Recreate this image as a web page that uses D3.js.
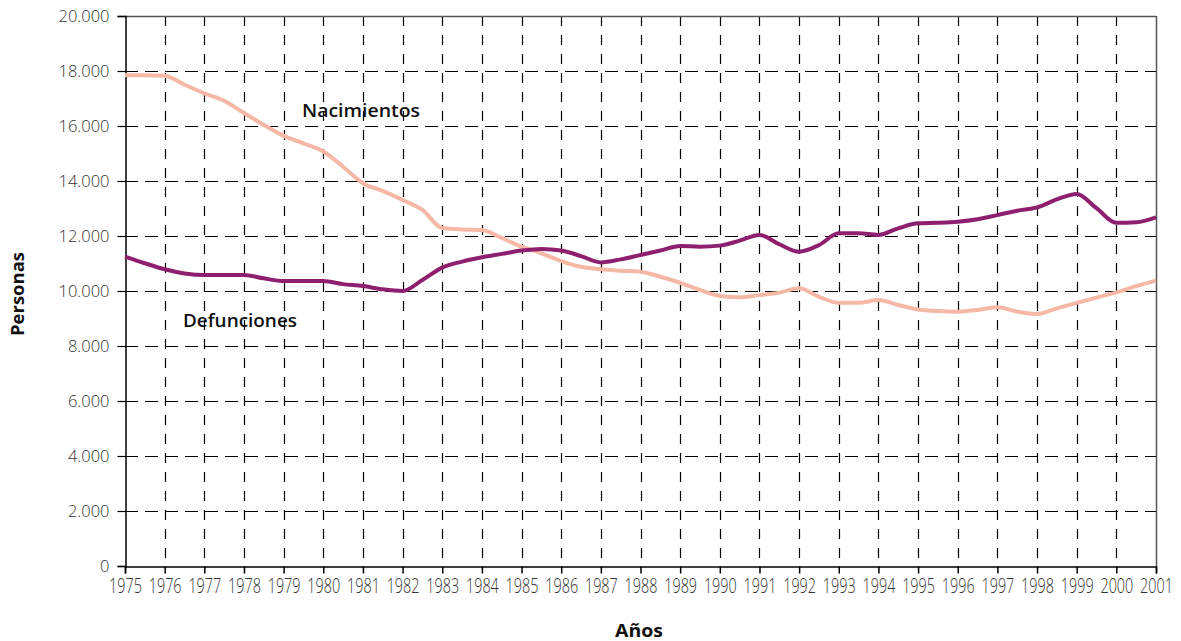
<!DOCTYPE html>
<html>
<head>
<meta charset="utf-8">
<script src="https://cdn.jsdelivr.net/npm/d3@7"></script>
<style>
  body { margin: 0; background: #fff; }
  svg { display: block; }
</style>
</head>
<body>
<svg id="chart" width="1181" height="641"></svg>
<script>
// half-year sampling points, 1975 .. 2001
const years = d3.range(0, 53).map(i => 1975 + i / 2);
const yearTicks = d3.range(1975, 2002);
const yTicks = [0, 2000, 4000, 6000, 8000, 10000, 12000, 14000, 16000, 18000, 20000];

const nacimientos = [
  17850, 17850, 17830, 17500, 17190, 16920, 16470, 16040, 15640, 15370,
  15070, 14520, 13920, 13640, 13310, 12950, 12290, 12240, 12220, 11930,
  11610, 11370, 11090, 10880, 10790, 10740, 10700, 10520, 10300, 10040,
  9820, 9770, 9850, 9940, 10100, 9790, 9570, 9570, 9670, 9490,
  9330, 9270, 9250, 9310, 9410, 9250, 9160, 9370, 9570, 9760,
  9950, 10180, 10380
];
const defunciones = [
  11250, 11010, 10790, 10640, 10580, 10580, 10580, 10460, 10360, 10360,
  10360, 10250, 10180, 10060, 10000, 10400, 10850, 11070, 11230, 11350,
  11470, 11530, 11470, 11270, 11040, 11150, 11310, 11470, 11640, 11610,
  11650, 11830, 12040, 11700, 11430, 11670, 12100, 12100, 12040, 12280,
  12460, 12480, 12520, 12610, 12760, 12920, 13040, 13330, 13530, 13010,
  12480, 12500, 12680
];
const seriesNames = ["Nacimientos", "Defunciones"];

(function () {
const svg = d3.select("#chart");
const mL = 125, mR = 1156, mT = 16, mB = 566;

const x = d3.scaleLinear().domain([1975, 2001]).range([mL, mR]);
const y = d3.scaleLinear().domain([0, 20000]).range([mB, mT]);

const fmt = v => d3.format(",")(v).replace(/,/g, ".");

// grid
const grid = svg.append("g");
grid.selectAll("line.h").data(yTicks.filter(v => v > 0 && v < 20000)).join("line")
  .attr("x1", mL).attr("x2", mR)
  .attr("y1", d => Math.round(y(d)) + 0.5).attr("y2", d => Math.round(y(d)) + 0.5)
  .attr("stroke", "#000").attr("stroke-width", 1.2).attr("stroke-dasharray", "13,7");
grid.selectAll("line.v").data(yearTicks.filter(v => v > 1975 && v < 2001)).join("line")
  .attr("y1", mT).attr("y2", mB)
  .attr("x1", d => Math.round(x(d)) + 0.5).attr("x2", d => Math.round(x(d)) + 0.5)
  .attr("stroke", "#000").attr("stroke-width", 1.2).attr("stroke-dasharray", "10,9");

// frame top/right
svg.append("line").attr("x1", mL).attr("x2", mR).attr("y1", mT + 0.5).attr("y2", mT + 0.5)
  .attr("stroke", "#555").attr("stroke-width", 1.5);
svg.append("line").attr("x1", mR + 0.5).attr("x2", mR + 0.5).attr("y1", mT).attr("y2", mB)
  .attr("stroke", "#555").attr("stroke-width", 1.5);

// axes
const yAxis = d3.axisLeft(y).tickValues(yTicks).tickFormat(fmt).tickSize(8).tickPadding(8);
const gy = svg.append("g").attr("transform", `translate(${mL + 0.5},0)`).call(yAxis);
gy.select(".domain").attr("stroke", "#000").attr("stroke-width", 1.5);
gy.selectAll(".tick line").attr("stroke", "#000").attr("stroke-width", 1.2);
gy.selectAll(".tick text").attr("font-family", "'Open Sans', sans-serif").attr("font-size", 16.5)
  .attr("fill", "#333").attr("font-weight", 300);

const xAxis = d3.axisBottom(x).tickValues(yearTicks).tickFormat(d3.format("d")).tickSize(7).tickPadding(5);
const gx = svg.append("g").attr("transform", `translate(0,${mB + 0.5})`).call(xAxis);
gx.select(".domain").attr("stroke", "#000").attr("stroke-width", 1.5);
gx.selectAll(".tick line").attr("stroke", "#000").attr("stroke-width", 1.5);
gx.selectAll(".tick text").attr("font-family", "'Open Sans', sans-serif").attr("font-weight", 300)
  .attr("font-size", 20).attr("fill", "#333")
  .attr("transform", "scale(0.72,1)");

// lines
const line = d3.line().x((d, i) => x(years[i])).y(d => y(d)).curve(d3.curveMonotoneX);
svg.append("path").datum(nacimientos).attr("d", line)
  .attr("fill", "none").attr("stroke", "#F5B8A6").attr("stroke-width", 4).attr("stroke-linejoin", "round");
svg.append("path").datum(defunciones).attr("d", line)
  .attr("fill", "none").attr("stroke", "#8E1F6F").attr("stroke-width", 4).attr("stroke-linejoin", "round");

// series labels
svg.append("text").attr("x", 302).attr("y", 117)
  .attr("font-family", "'Open Sans', sans-serif").attr("font-size", 18.5).attr("font-weight", 600)
  .attr("fill", "#111").attr("textLength", 118).attr("lengthAdjust", "spacingAndGlyphs").text(seriesNames[0]);
svg.append("text").attr("x", 183).attr("y", 327)
  .attr("font-family", "'Open Sans', sans-serif").attr("font-size", 18.5).attr("font-weight", 600)
  .attr("fill", "#111").attr("textLength", 114).attr("lengthAdjust", "spacingAndGlyphs").text(seriesNames[1]);

// axis titles
svg.append("text").attr("transform", "translate(24,294) rotate(-90)").attr("text-anchor", "middle")
  .attr("font-family", "'Open Sans', sans-serif").attr("font-size", 17).attr("font-weight", 700)
  .attr("fill", "#111").attr("textLength", 84).attr("lengthAdjust", "spacingAndGlyphs").text("Personas");
svg.append("text").attr("x", 639).attr("y", 637).attr("text-anchor", "middle")
  .attr("font-family", "'Open Sans', sans-serif").attr("font-size", 17.5).attr("font-weight", 700)
  .attr("fill", "#111").attr("textLength", 48).attr("lengthAdjust", "spacingAndGlyphs").text("Años");
})();
</script>
</body>
</html>
